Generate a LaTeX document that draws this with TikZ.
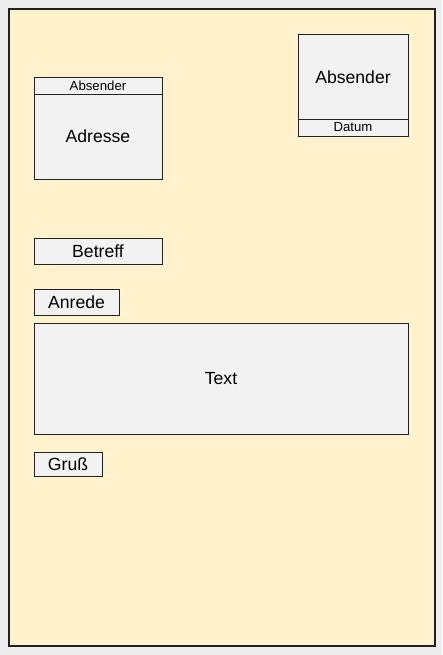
\documentclass[tikz,border=0pt]{standalone}
\usepackage{fontspec}
\setmainfont{Liberation Sans}
\definecolor{bg}{HTML}{EDEDED}
\definecolor{paper}{HTML}{FFF2CC}
\definecolor{boxfill}{HTML}{F1F2F1}
\definecolor{edge}{HTML}{222222}
\tikzset{
  field/.style={draw=edge, fill=boxfill, line width=0.9pt},
  bigtxt/.style={font=\fontsize{17.6}{20}\selectfont, inner sep=0pt},
  smalltxt/.style={font=\fontsize{13.2}{15}\selectfont, inner sep=0pt},
}
\begin{document}
\begin{tikzpicture}[x=1pt,y=-1pt]
\fill[bg] (0,0) rectangle (442,655);
\useasboundingbox (0,0) rectangle (442,655);
\draw[draw=edge, fill=paper, line width=1.1pt] (9,9) rectangle (435,646);
% address block
\draw[field] (34,77) rectangle (162,179);
\draw[field, fill=none] (34,94) -- (162,94);
\node[smalltxt] (absA) at (98,85.5) {Absender};
\node[bigtxt] (adr) at (98,136) {Adresse};
% sender block
\draw[field] (298,34) rectangle (408,136);
\draw[field, fill=none] (298,119) -- (408,119);
\node[bigtxt] (absB) at (353,77) {Absender};
\node[smalltxt] (dat) at (353,127.5) {Datum};
% fields
\draw[field] (34,238) rectangle (162,264);
\node[bigtxt] (bet) at (98,251) {Betreff};
\draw[field] (34,289) rectangle (119,315);
\node[bigtxt] (anr) at (76.5,302) {Anrede};
\draw[field] (34,323) rectangle (408,434);
\node[bigtxt] (txt) at (221,378.5) {Text};
\draw[field] (34,452) rectangle (102,476);
\node[bigtxt] (gr) at (68,464) {Gruß};
\end{tikzpicture}
\end{document}
